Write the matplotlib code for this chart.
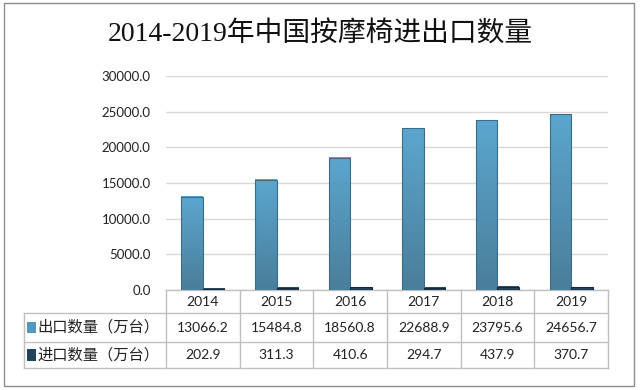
import matplotlib
matplotlib.use("Agg")
import matplotlib.pyplot as plt
import matplotlib.transforms as mtransforms
from matplotlib.colors import LinearSegmentedColormap
from matplotlib.patches import Rectangle
from matplotlib.lines import Line2D
import numpy as np

plt.rcParams['font.family'] = ['Lato', 'Noto Sans CJK SC', 'DejaVu Sans']

title = "2014-2019年中国按摩椅进出口数量"
years = ["2014", "2015", "2016", "2017", "2018", "2019"]
export_qty = [13066.2, 15484.8, 18560.8, 22688.9, 23795.6, 24656.7]
import_qty = [202.9, 311.3, 410.6, 294.7, 437.9, 370.7]
series_names = ["出口数量（万台）", "进口数量（万台）"]
y_ticks = [0, 5000, 10000, 15000, 20000, 25000, 30000]

export_color = "#5197be"
import_color = "#22435c"
grid_color = "#d9d9d9"
table_line = "#c0c0c0"

fig = plt.figure(figsize=(6.4, 3.9), dpi=100)
fig.patch.set_facecolor("white")

# outer frame
fig.add_artist(Rectangle((4 / 640, 4 / 390), 630 / 640, 383 / 390, transform=fig.transFigure,
                         fill=False, edgecolor="#8c8c8c", linewidth=1.0))

fig.text(0.5, 1 - 35 / 390, title, ha="center", va="center", fontsize=20,
         family=["Liberation Serif", "Noto Sans CJK SC"], color="#111111")

ax = fig.add_axes([166 / 640, 1 - 290 / 390, 442 / 640, 214 / 390])
x = np.arange(len(years))
w = 0.29

cm_exp = LinearSegmentedColormap.from_list("exp", ["#4a7e9a", "#5ba6ce"])
cm_imp = LinearSegmentedColormap.from_list("imp", ["#1c3a52", "#2c5270"])

b1 = ax.bar(x - w / 2, export_qty, w, facecolor="none", edgecolor="#3b6c87", linewidth=0.8, zorder=4)
b2 = ax.bar(x + w / 2, import_qty, w, facecolor="none", edgecolor="#16293a", linewidth=0.8, zorder=4)

grad = np.linspace(0, 1, 100).reshape(-1, 1)
for bars, cm in ((b1, cm_exp), (b2, cm_imp)):
    for p in bars:
        x0, bw, h = p.get_x(), p.get_width(), p.get_height()
        ax.imshow(grad, extent=[x0, x0 + bw, 0, h], origin="lower", aspect="auto",
                  cmap=cm, zorder=3)

ax.set_xlim(-0.5, len(years) - 0.5)
ax.set_ylim(0, 30000)
ax.set_yticks(y_ticks)
ax.set_yticklabels([f"{v:.1f}" for v in y_ticks], fontsize=9.5, color="#222222")
ax.tick_params(axis="y", length=0, pad=11)
ax.set_xticks([])
ax.yaxis.grid(True, color=grid_color, linewidth=1.0, zorder=0)
ax.set_axisbelow(True)
for s in ax.spines.values():
    s.set_visible(False)

# data table under the axis
tr = mtransforms.blended_transform_factory(ax.transData, ax.transAxes)
row_y = [0, -23 / 214, -52 / 214, -78 / 214]
head_left = (24 - 166) / 442
edges = np.arange(len(years) + 1) - 0.5

# horizontal lines
ax.add_line(Line2D([0, 1], [row_y[0]] * 2, transform=ax.transAxes, color=table_line, lw=1, clip_on=False))
for yy in row_y[1:]:
    ax.add_line(Line2D([head_left, 1], [yy] * 2, transform=ax.transAxes, color=table_line, lw=1, clip_on=False))
# vertical lines
for e in edges:
    ax.add_line(Line2D([e, e], [row_y[0], row_y[-1]], transform=tr, color=table_line, lw=1, clip_on=False))
ax.add_line(Line2D([head_left, head_left], [row_y[1], row_y[-1]], transform=ax.transAxes,
                   color=table_line, lw=1, clip_on=False))

def mid(i):
    return (row_y[i] + row_y[i + 1]) / 2

for i, yr in enumerate(years):
    ax.text(x[i], mid(0), yr, transform=tr, ha="center", va="center", fontsize=10, color="#222222")
    ax.text(x[i], mid(1), f"{export_qty[i]:.1f}", transform=tr, ha="center", va="center",
            fontsize=10, color="#222222")
    ax.text(x[i], mid(2), f"{import_qty[i]:.1f}", transform=tr, ha="center", va="center",
            fontsize=10, color="#222222")

for r, (name, col) in enumerate(zip(series_names, [export_color, import_color])):
    yy = mid(r + 1)
    ax.add_patch(Rectangle((head_left + 0.007, yy - 0.026), 0.02, 0.052, transform=ax.transAxes,
                           facecolor=col, edgecolor="none", clip_on=False))
    ax.text(head_left + 0.031, yy, name, transform=ax.transAxes, ha="left", va="center",
            fontsize=11, color="#222222", family=["Noto Sans CJK SC"])

fig.savefig("out.png", dpi=100)
